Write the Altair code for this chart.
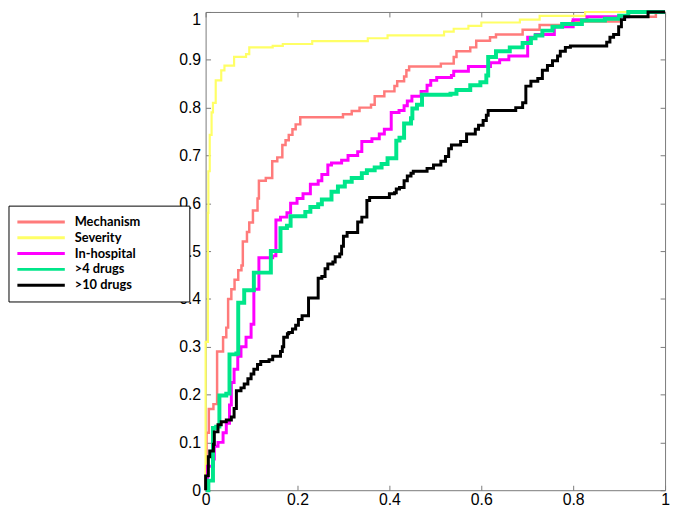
import altair as alt
import pandas as pd

series_names = ["Mechanism", "Severity", "In-hospital", ">4 drugs", ">10 drugs"]
series_colors = ["#FF7B7B", "#FFFF66", "#FF00FF", "#00E68A", "#000000"]
series_widths = [2.5, 2.2, 3.0, 4.0, 3.0]

x_ticks = [0, 0.2, 0.4, 0.6, 0.8, 1]
y_ticks = [0, 0.1, 0.2, 0.3, 0.4, 0.5, 0.6, 0.7, 0.8, 0.9, 1]

mechanism = [(0, 0), (0.002, 0.12), (0.007, 0.17), (0.017, 0.18), (0.025, 0.29), (0.038, 0.32),
             (0.045, 0.34), (0.049, 0.40), (0.056, 0.42), (0.063, 0.44), (0.071, 0.46), (0.078, 0.47),
             (0.081, 0.52), (0.090, 0.54), (0.095, 0.56), (0.103, 0.585), (0.113, 0.61), (0.116, 0.647),
             (0.131, 0.653), (0.145, 0.688), (0.156, 0.696), (0.167, 0.722), (0.174, 0.732), (0.181, 0.743),
             (0.189, 0.755), (0.196, 0.765), (0.206, 0.78), (0.299, 0.786), (0.318, 0.793), (0.335, 0.80),
             (0.360, 0.806), (0.368, 0.824), (0.389, 0.834), (0.411, 0.845), (0.417, 0.855), (0.432, 0.865),
             (0.437, 0.878), (0.443, 0.886), (0.512, 0.892), (0.540, 0.906), (0.546, 0.918), (0.576, 0.926),
             (0.589, 0.94), (0.619, 0.947), (0.632, 0.953), (0.690, 0.963), (0.727, 0.973), (0.798, 0.98),
             (0.900, 0.99), (0.980, 1.0), (1.0, 1.0)]

severity = [(0, 0), (0, 0.31), (0.005, 0.58), (0.006, 0.667), (0.009, 0.743), (0.013, 0.79), (0.016, 0.81),
            (0.022, 0.857), (0.034, 0.878), (0.041, 0.888), (0.062, 0.906), (0.088, 0.912), (0.095, 0.926),
            (0.146, 0.929), (0.168, 0.933), (0.232, 0.939), (0.353, 0.945), (0.396, 0.951), (0.519, 0.959),
            (0.540, 0.965), (0.572, 0.971), (0.600, 0.978), (0.684, 0.984), (0.727, 0.992), (0.826, 1.0),
            (1.0, 1.0)]

in_hospital = [(0, 0), (0.004, 0.05), (0.017, 0.065), (0.019, 0.092), (0.027, 0.10), (0.038, 0.12),
               (0.045, 0.14), (0.052, 0.178), (0.056, 0.225), (0.062, 0.253), (0.070, 0.28), (0.077, 0.30),
               (0.088, 0.32), (0.099, 0.347), (0.105, 0.42), (0.116, 0.486), (0.146, 0.49), (0.153, 0.565),
               (0.163, 0.571), (0.177, 0.58), (0.185, 0.60), (0.199, 0.61), (0.212, 0.62), (0.228, 0.64),
               (0.245, 0.647), (0.253, 0.66), (0.266, 0.68), (0.274, 0.684), (0.296, 0.69), (0.310, 0.70),
               (0.331, 0.708), (0.340, 0.729), (0.362, 0.735), (0.378, 0.745), (0.389, 0.755), (0.404, 0.79),
               (0.421, 0.794), (0.432, 0.804), (0.439, 0.814), (0.449, 0.824), (0.469, 0.834), (0.482, 0.847),
               (0.490, 0.857), (0.503, 0.863), (0.535, 0.867), (0.540, 0.876), (0.572, 0.886), (0.620, 0.894),
               (0.640, 0.90), (0.660, 0.908), (0.701, 0.947), (0.718, 0.953), (0.759, 0.969), (0.800, 0.984),
               (0.830, 0.99), (0.920, 1.0), (1.0, 1.0)]

drugs4 = [(0, 0), (0.006, 0.02), (0.016, 0.13), (0.023, 0.133), (0.030, 0.198), (0.045, 0.202),
          (0.052, 0.284), (0.067, 0.286), (0.071, 0.392), (0.084, 0.418), (0.105, 0.455), (0.142, 0.50),
          (0.163, 0.548), (0.177, 0.553), (0.185, 0.573), (0.217, 0.582), (0.228, 0.592), (0.245, 0.598),
          (0.253, 0.608), (0.274, 0.624), (0.288, 0.635), (0.303, 0.645), (0.318, 0.653), (0.340, 0.663),
          (0.351, 0.669), (0.368, 0.675), (0.383, 0.682), (0.396, 0.694), (0.415, 0.731), (0.422, 0.737),
          (0.432, 0.767), (0.447, 0.778), (0.450, 0.798), (0.460, 0.806), (0.471, 0.827), (0.533, 0.829),
          (0.546, 0.837), (0.576, 0.847), (0.598, 0.853), (0.611, 0.867), (0.615, 0.906), (0.632, 0.918),
          (0.662, 0.926), (0.690, 0.935), (0.708, 0.945), (0.718, 0.951), (0.733, 0.961), (0.755, 0.969),
          (0.776, 0.975), (0.819, 0.982), (0.869, 0.986), (0.900, 0.992), (0.920, 1.0), (1.0, 1.0)]

drugs10 = [(0, 0), (0, 0.03), (0.006, 0.07), (0.009, 0.082), (0.017, 0.096), (0.019, 0.122), (0.027, 0.137),
           (0.034, 0.143), (0.045, 0.147), (0.056, 0.153), (0.062, 0.171), (0.067, 0.208), (0.077, 0.214),
           (0.084, 0.222), (0.092, 0.233), (0.099, 0.243), (0.105, 0.253), (0.113, 0.263), (0.120, 0.269),
           (0.138, 0.273), (0.146, 0.28), (0.163, 0.29), (0.167, 0.30), (0.170, 0.32), (0.178, 0.327),
           (0.181, 0.33), (0.189, 0.337), (0.196, 0.345), (0.202, 0.357), (0.210, 0.365), (0.224, 0.402),
           (0.245, 0.443), (0.253, 0.447), (0.260, 0.463), (0.266, 0.473), (0.277, 0.477), (0.282, 0.488),
           (0.292, 0.494), (0.296, 0.51), (0.300, 0.531), (0.308, 0.539), (0.331, 0.561), (0.340, 0.571),
           (0.351, 0.606), (0.357, 0.612), (0.400, 0.62), (0.411, 0.622), (0.415, 0.63), (0.422, 0.633),
           (0.432, 0.647), (0.439, 0.657), (0.447, 0.663), (0.452, 0.667), (0.482, 0.673), (0.496, 0.68),
           (0.512, 0.688), (0.522, 0.698), (0.529, 0.714), (0.535, 0.722), (0.555, 0.729), (0.568, 0.745),
           (0.587, 0.755), (0.594, 0.763), (0.604, 0.773), (0.611, 0.784), (0.615, 0.794), (0.675, 0.80),
           (0.690, 0.81), (0.697, 0.845), (0.708, 0.855), (0.723, 0.861), (0.733, 0.878), (0.744, 0.888),
           (0.755, 0.898), (0.766, 0.908), (0.772, 0.918), (0.783, 0.926), (0.794, 0.929), (0.873, 0.937),
           (0.880, 0.947), (0.888, 0.953), (0.899, 0.969), (0.905, 0.984), (0.912, 0.99), (0.963, 1.0),
           (1.0, 1.0)]

curves = [mechanism, severity, in_hospital, drugs4, drugs10]

rows = []
for name, pts in zip(series_names, curves):
    for i, (fx, ty) in enumerate(pts):
        rows.append({"series": name, "fpr": fx, "tpr": ty, "idx": i})
df = pd.DataFrame(rows)

frame = "#7a7a7a"
tick_font = "Liberation Sans"

axis_bottom = alt.Axis(orient="bottom", values=x_ticks, format="~g", offset=-5, tickSize=5,
                       domain=False, grid=False, labelFlush=False, labelPadding=1,
                       labelFont=tick_font, labelFontSize=16, labelColor="black",
                       tickColor=frame, title=None)
axis_left = alt.Axis(orient="left", values=y_ticks, format="~g", offset=-5, tickSize=5,
                     domain=False, grid=False, labelFlush=False, labelPadding=5,
                     labelBaseline={"condition": {"test": "datum.value == 1", "value": "top"},
                                    "value": "middle"},
                     labelFont=tick_font, labelFontSize=16, labelColor="black",
                     tickColor=frame, title=None)
axis_top = alt.Axis(orient="top", values=x_ticks, offset=-5, tickSize=5, domain=False, grid=False,
                    labels=False, tickColor=frame, title=None)
axis_right = alt.Axis(orient="right", values=y_ticks, offset=-5, tickSize=5, domain=False, grid=False,
                      labels=False, tickColor=frame, title=None)

xscale = alt.Scale(domain=[0, 1], nice=False)
yscale = alt.Scale(domain=[0, 1], nice=False)

legend = alt.Legend(title=None, orient="none", legendX=-199.5, legendY=196,
                    fillColor="white", strokeColor="black", padding=9,
                    cornerRadius=0, symbolType="M-4,0H4", symbolSize=144, symbolStrokeWidth=3,
                    symbolOffset=16.5, labelOffset=26.5, rowPadding=1,
                    labelFont="Lato", labelFontWeight="bold", labelFontSize=13, labelColor="black",
                    labelLimit=0,
                    labelExpr="pad(datum.label, length(datum.label) + 4, '\u2800')")

color = alt.Color("series:N", scale=alt.Scale(domain=series_names, range=series_colors), legend=legend)

base = alt.Chart(df)
layers = []
for i, (name, w) in enumerate(zip(series_names, series_widths)):
    layers.append(
        base.transform_filter(alt.datum.series == name)
        .mark_line(interpolate="step-after", strokeWidth=w)
        .encode(
            x=alt.X("fpr:Q", scale=xscale, axis=axis_bottom if i == 0 else None),
            y=alt.Y("tpr:Q", scale=yscale, axis=axis_left if i == 0 else None),
            color=color,
            order=alt.Order("idx:Q"),
        )
    )

frame_layer = base.mark_line(opacity=0).encode(
    x=alt.X("fpr:Q", scale=xscale, axis=axis_top),
    y=alt.Y("tpr:Q", scale=yscale, axis=axis_right),
    detail="series:N",
    order=alt.Order("idx:Q"),
)
layers.append(frame_layer)

chart = (
    alt.layer(*layers)
    .resolve_axis(x="independent", y="independent")
    .properties(width=465, height=484,
                padding={"left": 200, "top": 1, "right": 5, "bottom": 17},
                autosize=alt.AutoSizeParams(type="none"))
    .configure_view(stroke=frame, strokeWidth=1)
)

chart.save("out.html", embed_options={"renderer": "svg", "actions": False})
